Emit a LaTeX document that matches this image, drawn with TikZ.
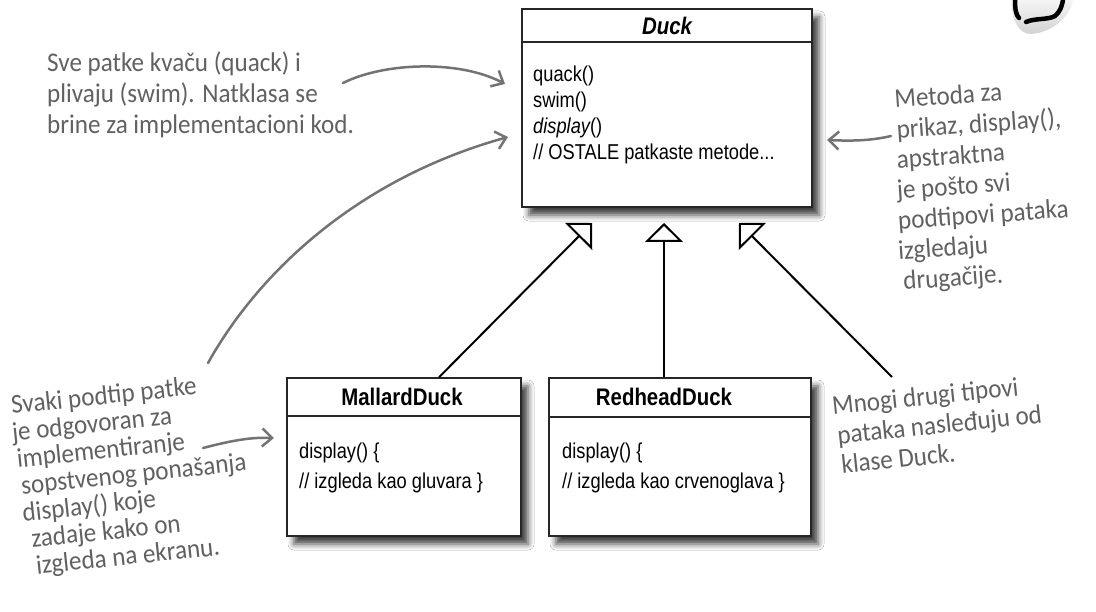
\documentclass[tikz,border=0pt]{standalone}
\usepackage{fontspec}
\setmainfont{Liberation Sans}
\newfontfamily\umlfont[FakeStretch=0.85]{Liberation Sans}
\newfontfamily\handfont[FakeStretch=0.93]{Carlito}
\usetikzlibrary{arrows.meta,shadows.blur,calc}

% one handwritten line inside a note block, with a small extra indent
\newcommand{\handline}[2]{\hbox{\kern#1pt #2}}

\tikzset{
  classbox/.style={draw=black!85, line width=1.5pt, fill=white,
    blur shadow={shadow xshift=7pt, shadow yshift=-8pt, shadow blur radius=6pt, shadow opacity=75},
    inner sep=0pt},
  classname/.style={font=\umlfont\fontsize{24pt}{28pt}\selectfont\bfseries, anchor=base, inner sep=0pt},
  member/.style={font=\umlfont\fontsize{21.5pt}{26pt}\selectfont, anchor=base west, inner sep=0pt},
  divider/.style={draw=black!85, line width=1.5pt},
  inherit/.style={draw=black, line width=2pt, -{Triangle[open, length=19pt, width=38pt]}},
  note/.style={font=\handfont\fontsize{27pt}{#1}\selectfont, text=black!62, anchor=base west, inner sep=0pt},
  note/.default=30pt,
  pointer/.style={draw=black!55, line width=2.5pt, line cap=round, line join=round,
    -{Straight Barb[length=10pt, width=18pt]}},
}

\begin{document}
\begin{tikzpicture}[x=1pt, y=-1pt]
  \fill[white] (0,0) rectangle (1096,612);
  \useasboundingbox (0,0) rectangle (1096,612);

  % corner of the duck drawing at the top right
  \shade[top color=gray!8, bottom color=gray!35]
    (1011,0) .. controls (1011,18) and (1018,34) .. (1031,34)
    .. controls (1050,33) and (1070,18) .. (1073,0) -- cycle;
  \draw[line width=4.5pt, line cap=round]
    (1015,0) .. controls (1015,9) and (1016,15) .. (1019,18);
  \draw[line width=4.5pt, line cap=round]
    (1026,22) .. controls (1035,18) and (1048,20) .. (1055,16)
    .. controls (1060,12) and (1062,6) .. (1063,0);

  % superclass Duck
  \node[classbox, minimum width=290pt, minimum height=198pt] (duck) at (667,108) {};
  \draw[divider] ([yshift=-34pt]duck.north west) -- ([yshift=-34pt]duck.north east);
  \node[classname] (duckname) at (667,34.5) {\itshape Duck};
  \node[member] (duckop1) at (533,82) {quack()};
  \node[member] (duckop2) at (533,108) {swim()};
  \node[member] (duckop3) at (533,134) {\itshape display\upshape()};
  \node[member] (duckop4) at (533,160) {// OSTALE patkaste metode...};

  % subclass MallardDuck
  \node[classbox, minimum width=234pt, minimum height=158pt] (mallard) at (404,457) {};
  \draw[divider] ([yshift=-39pt]mallard.north west) -- ([yshift=-39pt]mallard.north east);
  \node[classname] (mallardname) at (402,406) {MallardDuck};
  \node[member] (mallardop1) at (299,459) {display() \{};
  \node[member] (mallardop2) at (299,488) {// izgleda kao gluvara \}};

  % subclass RedheadDuck
  \node[classbox, minimum width=262pt, minimum height=158pt] (redhead) at (680,457) {};
  \draw[divider] ([yshift=-40pt]redhead.north west) -- ([yshift=-40pt]redhead.north east);
  \node[classname] (redheadname) at (664,406) {RedheadDuck};
  \node[member] (redheadop1) at (562,459) {display() \{};
  \node[member] (redheadop2) at (562,488) {// izgleda kao crvenoglava \}};

  % generalisation arrows
  \coordinate (tipL) at (592,223);
  \coordinate (tipM) at (664,223);
  \coordinate (tipR) at (739,223);
  \coordinate (others) at (892,377);
  \draw[inherit] ([xshift=35pt]mallard.north) -- (tipL);
  \draw[inherit] (tipM |- redhead.north) -- (tipM);
  \draw[inherit] (others) -- (tipR);

  % note: what the superclass does
  \node[note=31pt] (noteA) at (47,72) {\vtop{%
    \handline{0}{Sve patke kvaču (quack) i}
    \handline{0}{plivaju (swim). Natklasa se}
    \handline{0}{brine za implementacioni kod.}}};
  \coordinate (a1s) at (343,83);
  \coordinate (a1e) at (505,84);
  \draw[pointer] (a1s) .. controls (385,62) and (460,60) .. (a1e);

  % note: abstract display()
  \node[note=30.3pt, rotate=4] (noteB) at (895,108) {\vtop{%
    \handline{0}{Metoda za}
    \handline{0}{prikaz, display(),}
    \handline{-2}{apstraktna}
    \handline{-4}{je pošto svi}
    \handline{-5}{podtipovi pataka}
    \handline{-7}{izgledaju}
    \handline{-4}{drugačije.}}};
  \coordinate (a2s) at (891,136);
  \coordinate (a2e) at (827,140);
  \draw[pointer] (a2s) .. controls (870,141) and (850,141) .. (a2e);

  % note: each subtype implements display()
  \node[note=27pt, rotate=6] (noteC) at (12,414) {\vtop{%
    \handline{0}{Svaki podtip patke}
    \handline{-2}{je odgovoran za}
    \handline{0}{implementiranje}
    \handline{1.5}{sopstvenog ponašanja}
    \handline{0}{display() koje}
    \handline{6}{zadaje kako on}
    \handline{8}{izgleda na ekranu.}}};
  \coordinate (a3s) at (203,448);
  \coordinate (a3e) at (274,438);
  \draw[pointer] (a3s) .. controls (230,441) and (250,437) .. (a3e);
  \coordinate (a4s) at (208,363);
  \coordinate (a4e) at (508,137);
  \draw[pointer] (a4s) .. controls (260,270) and (360,178) .. (a4e);

  % note: other duck types
  \node[note=29.7pt, rotate=6] (noteD) at (833,415) {\vtop{%
    \handline{0}{Mnogi drugi tipovi}
    \handline{2}{pataka nasleđuju od}
    \handline{3}{klase Duck.}}};
\end{tikzpicture}
\end{document}
